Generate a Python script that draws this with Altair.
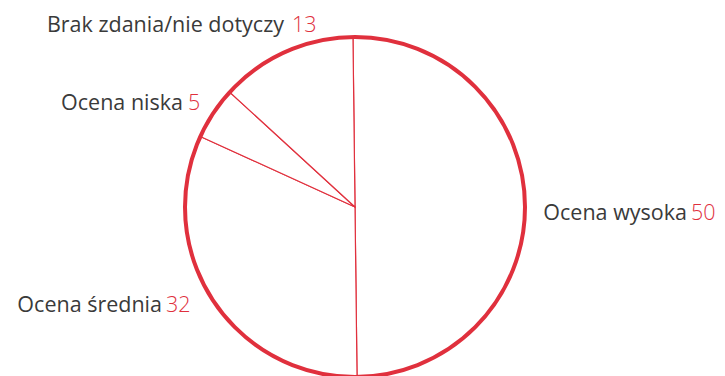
import math
import altair as alt
import pandas as pd

# data
categories = ["Ocena wysoka", "Ocena średnia", "Ocena niska", "Brak zdania/nie dotyczy"]
values = [50, 32, 5, 13]
order_idx = [0, 1, 2, 3]

# label layout (chart pixel coordinates)
label_end_x = [679, 154, 175, 276]      # where black text ends (right aligned)
number_start_x = [683, 158, 180, 284]   # where red number starts (left aligned)
label_baseline_y = [212, 304, 102, 23.5]

RED = "#e0303d"
GREY = "#3a3a3a"
FONT = "Open Sans"
FS = 21.5
CX, CY, R = 347, 199, 170
OFFSET = -0.012

df = pd.DataFrame({
    "cat": categories,
    "value": values,
    "ord": order_idx,
    "num": [str(v) for v in values],
    "lx": label_end_x,
    "nx": number_start_x,
    "ly": label_baseline_y,
})

pie = alt.Chart(df).mark_arc(
    radius=R, stroke=RED, strokeWidth=1.2, fill="white"
).encode(
    theta=alt.Theta("value:Q", stack=True,
                    scale=alt.Scale(range=[2 * math.pi + OFFSET, 4 * math.pi + OFFSET])),
    order=alt.Order("ord:Q"),
    x=alt.value(CX),
    y=alt.value(CY),
)

ring = alt.Chart(pd.DataFrame({"a": [1]})).mark_arc(
    radius=R, theta=0, theta2=2 * math.pi, stroke=RED, strokeWidth=4,
    fill="white", fillOpacity=0
).encode(x=alt.value(CX), y=alt.value(CY))

labels = alt.Chart(df).mark_text(
    align="right", baseline="alphabetic", font=FONT, fontSize=FS, color=GREY
).encode(
    x=alt.X("lx:Q", scale=None),
    y=alt.Y("ly:Q", scale=None),
    text="cat:N",
)

numbers = alt.Chart(df).mark_text(
    align="left", baseline="alphabetic", font=FONT, fontSize=FS,
    fontWeight=300, color=RED
).encode(
    x=alt.X("nx:Q", scale=None),
    y=alt.Y("ly:Q", scale=None),
    text="num:N",
)

chart = alt.layer(pie, ring, labels, numbers).properties(
    width=709, height=380, padding=0, autosize=alt.AutoSizeParams(type="none")
).configure_view(strokeWidth=0)

chart.save("out.html", embed_options={"renderer": "svg", "actions": False})
